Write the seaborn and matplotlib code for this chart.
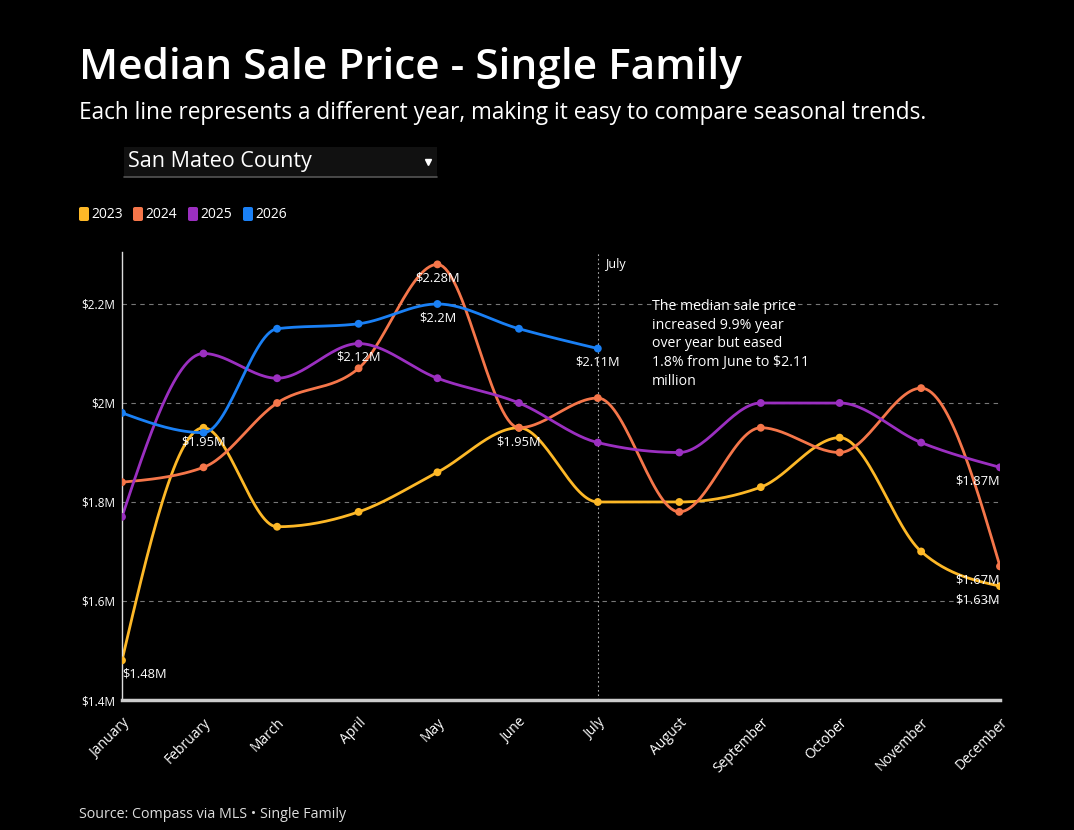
import numpy as np
import pandas as pd
import matplotlib
matplotlib.use('Agg')
import matplotlib.pyplot as plt
import matplotlib.dates as mdates
import seaborn as sns
from matplotlib.patches import Rectangle, FancyBboxPatch
from matplotlib.lines import Line2D

# ----------------------------------------------------------------------------
# Data (values in $M)
# ----------------------------------------------------------------------------
months = ['January', 'February', 'March', 'April', 'May', 'June', 'July',
          'August', 'September', 'October', 'November', 'December']
years = ['2023', '2024', '2025', '2026']

price_2023 = [1.48, 1.95, 1.75, 1.78, 1.86, 1.95, 1.80, 1.80, 1.83, 1.93, 1.70, 1.63]
price_2024 = [1.84, 1.87, 2.00, 2.07, 2.28, 1.95, 2.01, 1.78, 1.95, 1.90, 2.03, 1.67]
price_2025 = [1.77, 2.10, 2.05, 2.12, 2.05, 2.00, 1.92, 1.90, 2.00, 2.00, 1.92, 1.87]
price_2026 = [1.98, 1.94, 2.15, 2.16, 2.20, 2.15, 2.11]

colors = ['#FDB827', '#F5764A', '#9B2FC0', '#1A80F5']

# points that carry a value label: (year, month index)
labelled = [('2023', 0), ('2023', 1), ('2023', 5), ('2023', 11),
            ('2024', 4), ('2024', 11),
            ('2025', 3), ('2025', 11),
            ('2026', 4), ('2026', 6)]

y_ticks = [1.4, 1.6, 1.8, 2.0, 2.2]

title = 'Median Sale Price - Single Family'
subtitle = 'Each line represents a different year, making it easy to compare seasonal trends.'
note = ('The median sale price\nincreased 9.9% year\nover year but eased\n'
        '1.8% from June to $2.11\nmillion')
source = 'Source: Compass via MLS \u2022 Single Family'

# ----------------------------------------------------------------------------
# Long table
# ----------------------------------------------------------------------------
month_dates = pd.date_range('2023-01-01', periods=12, freq='MS')
series = {'2023': price_2023, '2024': price_2024, '2025': price_2025, '2026': price_2026}

rows = []
for yr, vals in series.items():
    for i, v in enumerate(vals):
        rows.append({'year': yr, 'month': i, 'date': month_dates[i], 'price': v})
df = pd.DataFrame(rows)
df['x'] = mdates.date2num(df['date'])


def smooth(x, y, n=30):
    # monotone cubic (same idea as d3 curveMonotoneX), for drawing only
    x = np.asarray(x, float)
    y = np.asarray(y, float)
    h = np.diff(x)
    s = np.diff(y) / h
    m = np.zeros_like(y)
    for i in range(1, len(y) - 1):
        p = (s[i - 1] * h[i] + s[i] * h[i - 1]) / (h[i - 1] + h[i])
        m[i] = (np.sign(s[i - 1]) + np.sign(s[i])) * min(abs(s[i - 1]), abs(s[i]), 0.5 * abs(p))
    m[0] = (3 * s[0] - m[1]) / 2 if len(y) > 2 else s[0]
    m[-1] = (3 * s[-1] - m[-2]) / 2 if len(y) > 2 else s[-1]
    xs, ys = [], []
    for i in range(len(x) - 1):
        t = np.linspace(0, 1, n, endpoint=False)
        h00 = 2 * t**3 - 3 * t**2 + 1
        h10 = t**3 - 2 * t**2 + t
        h01 = -2 * t**3 + 3 * t**2
        h11 = t**3 - t**2
        xs.append(x[i] + t * h[i])
        ys.append(h00 * y[i] + h10 * h[i] * m[i] + h01 * y[i + 1] + h11 * h[i] * m[i + 1])
    xs.append([x[-1]])
    ys.append([y[-1]])
    return np.concatenate(xs), np.concatenate(ys)


curves = []
for yr in years:
    sub = df[df['year'] == yr]
    cx, cy = smooth(sub['x'], sub['price'])
    curves.append(pd.DataFrame({'year': yr, 'x': cx, 'price': cy}))
curve_df = pd.concat(curves, ignore_index=True)

# ----------------------------------------------------------------------------
# Figure
# ----------------------------------------------------------------------------
sns.set_theme(style='dark')
plt.rcParams['font.family'] = ['Open Sans', 'DejaVu Sans']
plt.rcParams['text.color'] = 'white'

W, H = 1074, 830
fig = plt.figure(figsize=(W / 100, H / 100), dpi=100, facecolor='black')


def fx(px):
    return px / W


def fy(py):
    return 1 - py / H


ax = fig.add_axes([fx(122), fy(700), fx(1000) - fx(122), fy(252) - fy(700)])
ax.set_facecolor('black')

palette = dict(zip(years, colors))
sns.lineplot(data=curve_df, x='x', y='price', hue='year', palette=palette,
             sort=False, estimator=None, linewidth=2.0, legend=False, ax=ax)
sns.scatterplot(data=df, x='x', y='price', hue='year', palette=palette,
                s=32, edgecolor='none', legend=False, ax=ax, zorder=3)

ax.set_xlim(df['x'].min(), df['x'].max())
ax.set_ylim(1.4, 2.305)

ax.set_xticks(mdates.date2num(month_dates))
ax.set_xticklabels(months, rotation=45, ha='right', rotation_mode='anchor',
                   fontsize=10, color='white')
ax.set_yticks(y_ticks)
ax.set_yticklabels([f'${v:g}M' for v in y_ticks], fontsize=8.5, color='white')
ax.tick_params(axis='x', length=6, width=1.5, color='#cccccc', pad=5)
ax.tick_params(axis='y', length=0, pad=5)
ax.set_xlabel('')
ax.set_ylabel('')

ax.grid(False)
for v in y_ticks[1:]:
    ax.axhline(v, color='#777777', lw=0.8, ls=(0, (4, 4)), zorder=0)

for side in ['top', 'right']:
    ax.spines[side].set_visible(False)
ax.spines['left'].set_color('#dddddd')
ax.spines['left'].set_linewidth(1.0)
ax.spines['bottom'].set_color('#cccccc')
ax.spines['bottom'].set_linewidth(2.5)

# July marker
july_x = mdates.date2num(month_dates[6])
ax.axvline(july_x, color='#aaaaaa', lw=0.8, ls=(0, (1.5, 2.5)), zorder=0)
ax.annotate('July', xy=(july_x, 1), xycoords=('data', 'axes fraction'),
            xytext=(5, -9), textcoords='offset points', fontsize=9,
            color='white', va='center', ha='left')

# value labels
last_idx = len(months) - 1
for yr, i in labelled:
    v = series[yr][i]
    xv = mdates.date2num(month_dates[i])
    ha = 'left' if i == 0 else ('right' if i == last_idx else 'center')
    ax.annotate(f'${v:g}M', xy=(xv, v), xytext=(0, -10), textcoords='offset points',
                ha=ha, va='center', fontsize=9.3, color='white')

# ----------------------------------------------------------------------------
# Header, dropdown, legend, note, source
# ----------------------------------------------------------------------------
fig.text(fx(79), fy(79), title, fontsize=30.5, fontweight='semibold', color='white',
         ha='left', va='baseline')
fig.text(fx(79), fy(119), subtitle, fontsize=16.3, color='white',
         ha='left', va='baseline')

fig.patches.append(Rectangle((fx(124), fy(177)), fx(437) - fx(124), fy(147) - fy(177),
                             transform=fig.transFigure, facecolor='#111111',
                             edgecolor='none'))
fig.lines.append(Line2D([fx(124), fx(437)], [fy(177), fy(177)], transform=fig.transFigure,
                        color='#555555', lw=1.2))
fig.lines.append(Line2D([fx(428)], [fy(162)], transform=fig.transFigure, marker='v',
                        markersize=4.5, color='white', lw=0))
fig.text(fx(128), fy(161), 'San Mateo County', fontsize=15.5, color='white',
         ha='left', va='center')

leg_x = [79, 133, 188, 243]
for yr, c, lx in zip(years, colors, leg_x):
    fig.patches.append(FancyBboxPatch((fx(lx), fy(221)), fx(10), fy(207) - fy(221),
                                      boxstyle='round,pad=0,rounding_size=0.002',
                                      transform=fig.transFigure, facecolor=c,
                                      edgecolor='none'))
    fig.text(fx(lx + 12), fy(214), yr, fontsize=10, color='white',
             ha='left', va='center')

fig.text(fx(652), fy(299), note, fontsize=10.2, color='white', ha='left', va='top',
         linespacing=1.33)

fig.text(fx(79), fy(814), source, fontsize=10.3, color='#dddddd', ha='left', va='center')

fig.savefig('out.png', dpi=100, facecolor='black')
